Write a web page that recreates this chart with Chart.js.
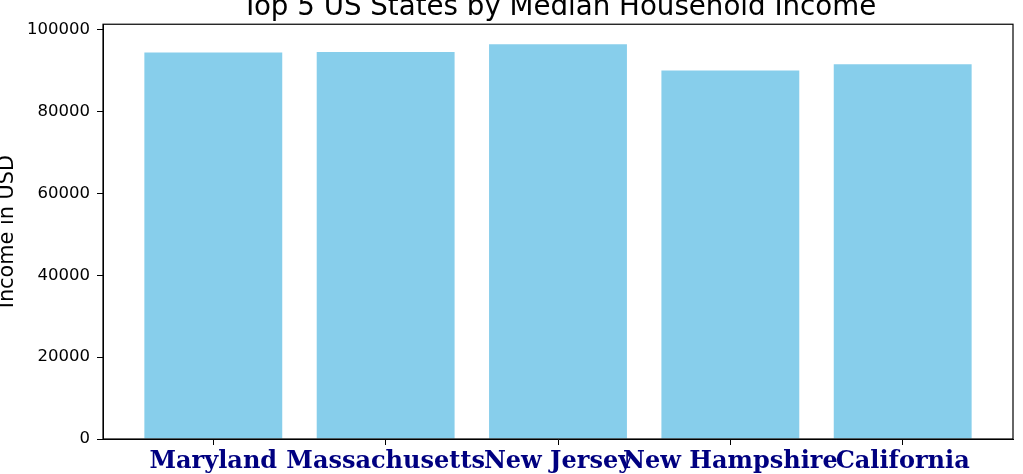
<!DOCTYPE html>
<html>
<head>
<meta charset="utf-8">
<script src="https://cdn.jsdelivr.net/npm/chart.js@4/dist/chart.umd.min.js"></script>
<style>
  html,body{margin:0;padding:0;background:#fff;overflow:hidden;width:1023px;height:474px;}
  #wrap{position:absolute;left:0;top:-20px;width:1118px;height:514px;}
</style>
</head>
<body>
<div id="wrap"><canvas id="chart"></canvas></div>
<script>
// data
const states = ['Maryland','Massachusetts','New Jersey','New Hampshire','California'];
const incomes = [94400, 94500, 96400, 90000, 91500];
const yTicks = [0, 20000, 40000, 60000, 80000, 100000];
const yMax = 101300;
const xMin = -0.64, xMax = 4.64;

// matplotlib style frame round the plot
const frame = {
  id:'frame',
  afterDatasetsDraw(chart){
    const a = chart.chartArea, ctx = chart.ctx;
    ctx.save();
    ctx.strokeStyle = '#000';
    ctx.lineWidth = 1.2;
    ctx.strokeRect(a.left, a.top, a.right - a.left, a.bottom - a.top);
    ctx.restore();
  }
};

const ctx = document.getElementById('chart').getContext('2d');
new Chart(ctx,{
  type:'bar',
  data:{
    datasets:[{
      label:'Income',
      data: states.map((s,i)=>({x:i, y:incomes[i]})),
      backgroundColor:'#87CEEB',
      borderWidth:0,
      categoryPercentage:1,
      barPercentage:0.8
    }]
  },
  plugins:[frame],
  options:{
    responsive:true,
    maintainAspectRatio:false,
    animation:false,
    devicePixelRatio:1,
    layout:{padding:0},
    plugins:{
      legend:{display:false},
      tooltip:{enabled:false},
      title:{
        display:true,
        text:'Top 5 US States by Median Household Income',
        color:'#000',
        font:{family:'DejaVu Sans',size:27.7,weight:'normal',lineHeight:1.2},
        padding:{top:11,bottom:0}
      }
    },
    scales:{
      x:{
        type:'linear',
        offset:false,
        min:xMin, max:xMax,
        afterBuildTicks:(scale)=>{ scale.ticks = states.map((s,i)=>({value:i})); },
        afterFit:(scale)=>{ scale.height = 55; },
        grid:{offset:false, drawOnChartArea:false, drawTicks:true, tickLength:6, tickColor:'#000', tickWidth:1},
        border:{display:true, color:'#000', width:1},
        ticks:{
          autoSkip:false, maxRotation:0, minRotation:0, padding:2,
          color:'#000080',
          font:{family:'DejaVu Serif',size:24,weight:'bold'},
          callback:(v)=>states[v]
        }
      },
      y:{
        min:0, max:yMax,
        afterBuildTicks:(scale)=>{ scale.ticks = yTicks.map(v=>({value:v})); },
        afterFit:(scale)=>{ scale.width = 103; },
        grid:{drawOnChartArea:false, drawTicks:true, tickLength:6, tickColor:'#000', tickWidth:1},
        border:{display:true, color:'#000', width:1},
        ticks:{
          padding:7,
          color:'#000',
          font:{family:'DejaVu Sans',size:16.5},
          callback:(v)=>String(v)
        },
        title:{
          display:true,
          text:'Income in USD',
          color:'#000',
          font:{family:'DejaVu Sans',size:20.8,lineHeight:0.7},
          padding:0
        }
      },
      // empty right-hand space, keeps the title centred over the plot
      spacer:{
        position:'right',
        min:0, max:1,
        afterFit:(scale)=>{ scale.width = 105; },
        grid:{display:false},
        border:{display:false},
        ticks:{display:false}
      }
    }
  }
});
</script>
</body>
</html>
